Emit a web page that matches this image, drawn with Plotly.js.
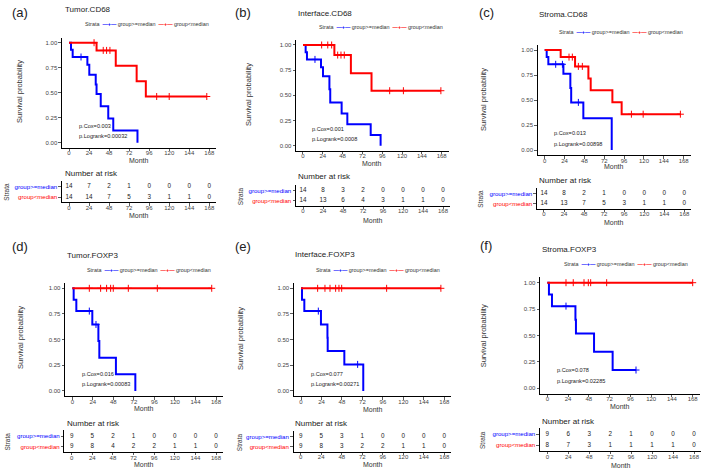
<!DOCTYPE html>
<html><head><meta charset="utf-8">
<script src="https://cdn.plot.ly/plotly-3.0.1.min.js"></script>
<style>html,body{margin:0;padding:0;background:#fff}</style>
</head><body><div id="chart" style="width:709px;height:474px"></div>
<script>
// ---------------- DATA ----------------
const monthTicks = [0, 24, 48, 72, 96, 120, 144, 168];
const survTicks = [0, 0.25, 0.5, 0.75, 1];
const highLabel = 'group>=median';
const lowLabel = 'group<median';

// (a) Tumor.CD68
const aHighT = [0, 2.4, 4.4, 22, 24.3, 32, 33, 38, 47, 53, 82];
const aHighS = [1, 0.929, 0.857, 0.779, 0.68, 0.583, 0.486, 0.364, 0.243, 0.121, 0];
const aHighCens = [14.4];
const aLowT = [0, 33, 56, 81, 92, 165];
const aLowS = [1, 0.923, 0.769, 0.615, 0.462, 0.462];
const aLowCens = [30, 41, 45, 49, 105, 120, 165];
const aRiskHigh = [14, 7, 2, 1, 0, 0, 0, 0];
const aRiskLow = [14, 14, 7, 5, 3, 1, 1, 0];
const aP = ['p.Cox=0.003', 'p.Logrank=0.00032'];

// (b) Interface.CD68
const bHighT = [0, 3.2, 4.8, 21.8, 24.2, 32, 33, 46.8, 53.7, 82, 94];
const bHighS = [1, 0.929, 0.857, 0.779, 0.69, 0.56, 0.43, 0.321, 0.214, 0.107, 0];
const bHighCens = [14.5];
const bLowT = [0, 38, 58, 83, 167];
const bLowS = [1, 0.9, 0.72, 0.546, 0.546];
const bLowCens = [22.6, 30, 34.7, 42, 46, 50, 105, 121.6, 167];
const bRiskHigh = [14, 8, 3, 2, 0, 0, 0, 0];
const bRiskLow = [14, 13, 6, 4, 3, 1, 1, 0];
const bP = ['p.Cox=0.001', 'p.Logrank=0.0008'];

// (c) Stroma.CD68
const cHighT = [0, 2.4, 4.4, 22.6, 31, 32, 46.7, 81];
const cHighS = [1, 0.929, 0.857, 0.762, 0.62, 0.476, 0.317, 0];
const cHighCens = [13.3, 21.4, 40.7];
const cLowT = [0, 19.3, 36.7, 52.8, 55.6, 81.8, 93, 164];
const cLowS = [1, 0.929, 0.836, 0.716, 0.597, 0.478, 0.358, 0.358];
const cLowCens = [29.4, 33.4, 40.7, 45.5, 104.8, 119, 164];
const cRiskHigh = [14, 8, 2, 1, 0, 0, 0, 0];
const cRiskLow = [14, 13, 7, 5, 3, 1, 1, 0];
const cP = ['p.Cox=0.013', 'p.Logrank=0.00898'];

// (d) Tumor.FOXP3
const dHighT = [0, 1.6, 4.7, 23.4, 30.5, 31.6, 51, 73.7];
const dHighS = [1, 0.889, 0.778, 0.648, 0.486, 0.324, 0.162, 0];
const dHighCens = [19.9, 27.7];
const dLowT = [0, 163];
const dLowS = [1, 1];
const dLowCens = [19.9, 33.1, 40.1, 44.8, 47.9, 65.5, 99.4, 163];
const dRiskHigh = [9, 5, 2, 1, 0, 0, 0, 0];
const dRiskLow = [9, 8, 4, 2, 2, 1, 1, 0];
const dP = ['p.Cox=0.016', 'p.Logrank=0.00083'];

// (e) Interface.FOXP3
const eHighT = [0, 1.2, 3.9, 23.4, 31, 31.3, 50.8, 73];
const eHighS = [1, 0.889, 0.778, 0.648, 0.519, 0.389, 0.259, 0];
const eHighCens = [20.3, 66.4];
const eLowT = [0, 164];
const eLowS = [1, 1];
const eLowCens = [19.5, 28.1, 34, 40.6, 44.5, 47.7, 100.4, 164];
const eRiskHigh = [9, 5, 3, 1, 0, 0, 0, 0];
const eRiskLow = [9, 8, 3, 2, 2, 1, 1, 0];
const eP = ['p.Cox=0.077', 'p.Logrank=0.00271'];

// (f) Stroma.FOXP3
const fHighT = [0, 1.9, 5.4, 32.5, 33.1, 54, 75.5, 102.5];
const fHighS = [1, 0.889, 0.778, 0.648, 0.519, 0.346, 0.173, 0.173];
const fHighCens = [21.6, 102.5];
const fLowT = [0, 168];
const fLowS = [1, 1];
const fLowCens = [21.6, 30, 42.4, 47.4, 50.1, 68.6, 168];
const fRiskHigh = [9, 6, 3, 2, 1, 0, 0, 0];
const fRiskLow = [8, 7, 3, 1, 1, 1, 1, 0];
const fP = ['p.Cox=0.078', 'p.Logrank=0.02285'];

const panelLetters = ['(a)', '(b)', '(c)', '(d)', '(e)', '(f)'];
const panelTitles = ['Tumor.CD68', 'Interface.CD68', 'Stroma.CD68', 'Tumor.FOXP3', 'Interface.FOXP3', 'Stroma.FOXP3'];

// ---------------- LAYOUT GEOMETRY (pixels) ----------------
const W = 709, H = 474;
const geo = [
  {x0:69, x168:209.3, y1:42.7, y0:142.7, tx0:69, tx168:209.3, r1:186.7, r0:197, let:[10,12], tit:[63,9.5], leg:[82.7,24.3], ylab:[20,92], mY:160, nar:[63,174], str:[7,191.7], tmY:215},
  {x0:303, x168:441.7, y1:45, y0:145.7, tx0:303, tx168:443, r1:190.7, r0:200.7, let:[233,12], tit:[296,13.3], leg:[316.7,26.7], ylab:[248,95], mY:163, nar:[296,176.7], str:[240.5,195.7], tmY:220},
  {x0:544.7, x168:683.7, y1:50, y0:150, tx0:544, tx168:684.3, r1:193.7, r0:203.7, let:[477,12], tit:[537,15], leg:[557.3,31.7], ylab:[484,100], mY:166.7, nar:[537.3,180], str:[481,198.7], tmY:222},
  {x0:72.3, x168:216, y1:288.3, y0:391, tx0:71.7, tx168:216, r1:436.3, r0:446.7, let:[10,246], tit:[65,255], leg:[85,270], ylab:[20,338], mY:408, nar:[65,423], str:[7,441.5], tmY:464.7},
  {x0:301, x168:444.3, y1:288.3, y0:391, tx0:300.7, tx168:444.3, r1:436.7, r0:446.7, let:[233,246], tit:[293,254], leg:[314.3,270], ylab:[240,338], mY:409, nar:[293.3,423.3], str:[239.5,441.7], tmY:464.7},
  {x0:547.3, x168:692.7, y1:282.7, y0:388.3, tx0:547.3, tx168:694, r1:434.3, r0:445.3, let:[478,245], tit:[540,249.3], leg:[561.7,264], ylab:[483.3,336], mY:406.7, nar:[540,421], str:[482,440], tmY:465}
];

const panels = [
  {hT:aHighT,hS:aHighS,hC:aHighCens,lT:aLowT,lS:aLowS,lC:aLowCens,rH:aRiskHigh,rL:aRiskLow,p:aP},
  {hT:bHighT,hS:bHighS,hC:bHighCens,lT:bLowT,lS:bLowS,lC:bLowCens,rH:bRiskHigh,rL:bRiskLow,p:bP},
  {hT:cHighT,hS:cHighS,hC:cHighCens,lT:cLowT,lS:cLowS,lC:cLowCens,rH:cRiskHigh,rL:cRiskLow,p:cP},
  {hT:dHighT,hS:dHighS,hC:dHighCens,lT:dLowT,lS:dLowS,lC:dLowCens,rH:dRiskHigh,rL:dRiskLow,p:dP},
  {hT:eHighT,hS:eHighS,hC:eHighCens,lT:eLowT,lS:eLowS,lC:eLowCens,rH:eRiskHigh,rL:eRiskLow,p:eP},
  {hT:fHighT,hS:fHighS,hC:fHighCens,lT:fLowT,lS:fLowS,lC:fLowCens,rH:fRiskHigh,rL:fRiskLow,p:fP}
];

const BLUE = '#0000ff', RED = '#ff0000';
const FONT = 'Liberation Sans, Arial, sans-serif';
const XR = [-8.4, 176.4], YR = [-0.05, 1.05], TYR = [-0.5, 1.6];
const esc = s => s.replace(/</g, '&lt;').replace(/>/g, '&gt;');

function survAt(T, S, t) { let v = S[0]; for (let i = 0; i < T.length; i++) if (T[i] <= t) v = S[i]; return v; }
const PX = px => px / W, PY = py => 1 - py / H;

const data = [];
const layout = {
  width: W, height: H, margin: {l:0, r:0, t:0, b:0}, paper_bgcolor: '#fff', plot_bgcolor: 'rgba(0,0,0,0)',
  showlegend: false, font: {family: FONT, color: '#333'}, annotations: []
};

function axisStyle(extra) {
  return Object.assign({
    showline: true, linecolor: '#000', linewidth: 1, ticks: 'outside', ticklen: 2.5, tickwidth: 0.8,
    tickcolor: '#333', tickfont: {size: 6, color: '#444', family: FONT}, showgrid: false, zeroline: false, fixedrange: true
  }, extra);
}

panels.forEach((p, i) => {
  const g = geo[i];
  const mi = 2 * i + 1, ti = 2 * i + 2;
  const mx = 'x' + (mi === 1 ? '' : mi), my = 'y' + (mi === 1 ? '' : mi);
  const tx = 'x' + ti, ty = 'y' + ti;
  const mxK = 'xaxis' + (mi === 1 ? '' : mi), myK = 'yaxis' + (mi === 1 ? '' : mi);
  const sx = (g.x168 - g.x0) / 168;
  const mxd = [PX(g.x0 + XR[0] * sx), PX(g.x0 + XR[1] * sx)];
  const sy = g.y0 - g.y1;
  const myd = [PY(g.y0 - YR[0] * sy), PY(g.y0 - YR[1] * sy)];
  const tsx = (g.tx168 - g.tx0) / 168;
  const txd = [PX(g.tx0 + XR[0] * tsx), PX(g.tx0 + XR[1] * tsx)];
  const tsy = g.r0 - g.r1;
  const tyd = [PY(g.r0 - TYR[0] * tsy), PY(g.r0 - TYR[1] * tsy)];

  layout[mxK] = axisStyle({domain: mxd, range: XR, tickvals: monthTicks, anchor: my, ticklabelstandoff: -3});
  layout[myK] = axisStyle({domain: myd, range: YR, tickvals: survTicks, tickformat: '.2f', anchor: mx});
  layout['xaxis' + ti] = axisStyle({domain: txd, range: XR, tickvals: monthTicks, anchor: ty, ticklabelstandoff: -3});
  layout['yaxis' + ti] = axisStyle({domain: tyd, range: TYR, tickvals: [0, 1], anchor: tx,
    ticktext: ['<span style="color:' + RED + '">' + esc(lowLabel) + '</span>', '<span style="color:' + BLUE + '">' + esc(highLabel) + '</span>'],
    tickfont: {size: 6.1, family: FONT}});

  [[p.hT, p.hS, p.hC, BLUE], [p.lT, p.lS, p.lC, RED]].forEach(([T, S, C, col]) => {
    data.push({x: T, y: S, xaxis: mx, yaxis: my, mode: 'lines', line: {shape: 'hv', color: col, width: 2}, hoverinfo: 'skip'});
    data.push({x: C, y: C.map(t => survAt(T, S, t)), xaxis: mx, yaxis: my, mode: 'markers',
      marker: {symbol: 'cross-thin', size: 5, color: col, line: {width: 1, color: col}}, hoverinfo: 'skip'});
  });
  data.push({x: monthTicks, y: monthTicks.map(() => 1), text: p.rH.map(String), mode: 'text', xaxis: tx, yaxis: ty,
    textfont: {size: 6.3, color: '#222', family: FONT}, hoverinfo: 'skip'});
  data.push({x: monthTicks, y: monthTicks.map(() => 0), text: p.rL.map(String), mode: 'text', xaxis: tx, yaxis: ty,
    textfont: {size: 6.3, color: '#222', family: FONT}, hoverinfo: 'skip'});

  const A = layout.annotations;
  const ann = (o) => A.push(Object.assign({showarrow: false, xref: 'paper', yref: 'paper'}, o));
  ann({x: PX(g.let[0]), y: PY(g.let[1]), text: panelLetters[i], xanchor: 'left', yanchor: 'middle', font: {size: 13, color: '#222'}});
  ann({x: PX(g.tit[0]), y: PY(g.tit[1]), text: panelTitles[i], xanchor: 'left', yanchor: 'middle', font: {size: 8, color: '#222'}});
  ann({x: PX(g.leg[0]), y: PY(g.leg[1]), xanchor: 'left', yanchor: 'middle', font: {size: 5.4, color: '#333'},
    text: 'Strata  <span style="color:' + BLUE + '"><b>—+—</b></span> ' + esc(highLabel) + '  <span style="color:' + RED + '"><b>—+—</b></span> ' + esc(lowLabel)});
  ann({x: PX(g.ylab[0]), y: PY(g.ylab[1]), text: 'Survival probability', textangle: -90, xanchor: 'center', yanchor: 'middle', font: {size: 7.5, color: '#333'}});
  ann({xref: mx, x: 84, y: PY(g.mY), text: 'Month', xanchor: 'center', yanchor: 'middle', font: {size: 7, color: '#333'}});
  ann({xref: mx, yref: my, x: 9, y: 0.17, text: p.p[0], xanchor: 'left', yanchor: 'middle', font: {size: 5.6, color: '#222'}});
  ann({xref: mx, yref: my, x: 9, y: 0.065, text: p.p[1], xanchor: 'left', yanchor: 'middle', font: {size: 5.6, color: '#222'}});
  ann({x: PX(g.nar[0]), y: PY(g.nar[1]), text: 'Number at risk', xanchor: 'left', yanchor: 'middle', font: {size: 8, color: '#222'}});
  ann({x: PX(g.str[0]), y: PY(g.str[1]), text: 'Strata', textangle: -90, xanchor: 'center', yanchor: 'middle', font: {size: 6.5, color: '#333'}});
  ann({xref: tx, x: 84, y: PY(g.tmY), text: 'Month', xanchor: 'center', yanchor: 'middle', font: {size: 7, color: '#333'}});
});

Plotly.newPlot('chart', data, layout, {displayModeBar: false, staticPlot: true});
</script>
</body></html>
